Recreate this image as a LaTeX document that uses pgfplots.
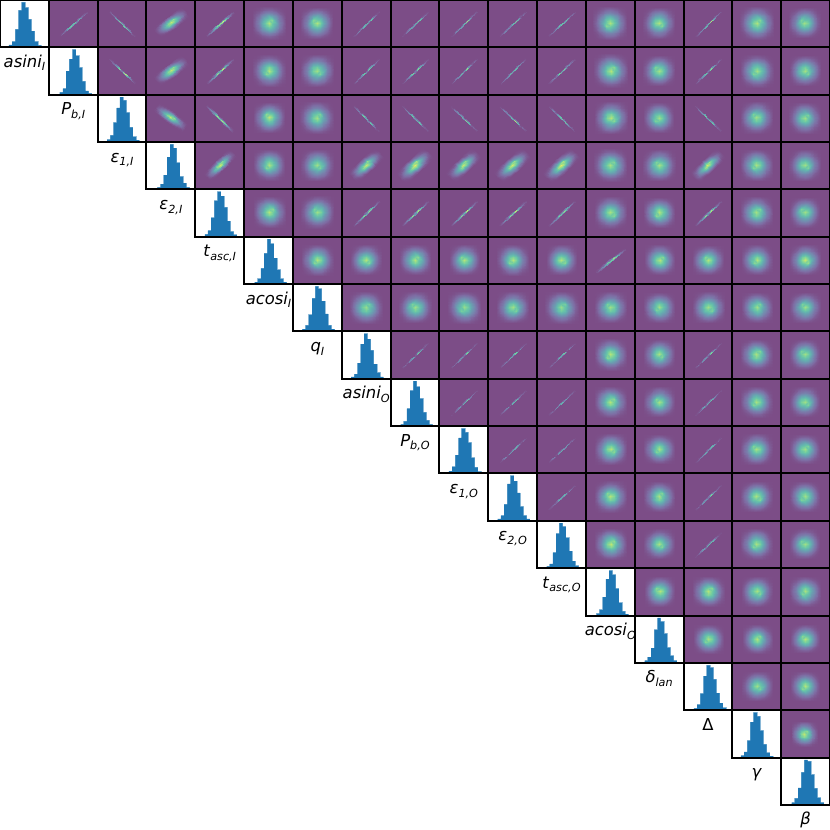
\documentclass[border=0pt]{standalone}
\usepackage{fontspec}
\setmainfont{DejaVu Sans}
\usepackage{pgfplots}
\usepackage{pgfplotstable}
\pgfplotsset{compat=1.18}

\definecolor{bgp}{RGB}{124,77,135}
\definecolor{histblue}{RGB}{31,119,180}
% viridis at alpha 0.7 on white
\pgfplotsset{colormap={vir}{rgb255(0)=(124,77,135) rgb255(0.125)=(126,108,163) rgb255(0.25)=(118,134,174)
  rgb255(0.375)=(107,156,176) rgb255(0.5)=(100,178,175) rgb255(0.625)=(105,198,166)
  rgb255(0.75)=(142,217,145) rgb255(0.875)=(198,231,110) rgb255(1)=(254,238,102)}}

% histogram heights per bin, one column per parameter
\pgfplotstableread{
bin h0 h1 h2 h3 h4 h5 h6 h7 h8 h9 h10 h11 h12 h13 h14 h15 h16
0 .05 .05 .05 .04 .05 .04 .05 .04 .04 .05 .04 .04 .04 .05 .04 .04 .05
1 .12 .13 .14 .11 .13 .11 .13 .10 .10 .14 .11 .09 .12 .12 .12 .12 .14
2 .38 .50 .41 .30 .40 .33 .35 .33 .37 .39 .35 .33 .39 .31 .35 .36 .36
3 .78 .75 .72 .68 .76 .65 .70 .73 .75 .75 .78 .73 .77 .70 .72 .75 .69
4 .95 .95 .95 .95 .95 .95 .95 .95 .95 .95 .95 .95 .95 .95 .95 .95 .95
5 .84 .82 .88 .87 .86 .85 .90 .84 .83 .87 .84 .88 .86 .87 .90 .87 .92
6 .59 .57 .62 .56 .62 .55 .64 .60 .58 .65 .59 .64 .57 .62 .65 .57 .64
7 .34 .28 .31 .27 .33 .30 .37 .31 .29 .33 .30 .36 .27 .32 .36 .28 .35
8 .12 .08 .11 .13 .11 .11 .13 .13 .12 .13 .11 .15 .09 .15 .15 .10 .15
9 .04 .03 .04 .04 .04 .04 .05 .04 .04 .04 .04 .05 .03 .05 .05 .03 .05
10 0 0 0 0 0 0 0 0 0 0 0 0 0 0 0 0 0
}\hists

% 2d histogram density on an 11x11 grid
\pgfplotstableread[row sep=\\]{
z\\
0\\0\\0\\0\\0\\0\\0\\0\\0\\0\\0\\
0\\.01\\.03\\.07\\.11\\.13\\.11\\.07\\.03\\.01\\0\\
0\\.03\\.10\\.21\\.28\\.33\\.29\\.19\\.10\\.04\\0\\
0\\.07\\.21\\.38\\.53\\.64\\.56\\.36\\.19\\.08\\0\\
0\\.12\\.28\\.56\\.82\\.94\\.80\\.52\\.30\\.11\\0\\
0\\.13\\.33\\.62\\.92\\1.10\\.86\\.63\\.32\\.14\\0\\
0\\.11\\.29\\.52\\.78\\.90\\.96\\.54\\.27\\.12\\0\\
0\\.08\\.19\\.38\\.52\\.66\\.55\\.37\\.21\\.07\\0\\
0\\.04\\.10\\.19\\.30\\.32\\.28\\.20\\.10\\.03\\0\\
0\\.01\\.03\\.07\\.12\\.13\\.12\\.07\\.04\\.01\\0\\
0\\0\\0\\0\\0\\0\\0\\0\\0\\0\\0\\
}\blob

\pgfplotstableread[row sep=\\]{
z\\
0\\0\\0\\0\\0\\0\\0\\0\\0\\0\\0\\
0\\.02\\.05\\.07\\.14\\.11\\.16\\.10\\.04\\.02\\0\\
0\\.05\\.11\\.18\\.33\\.28\\.37\\.24\\.10\\.04\\0\\
0\\.09\\.21\\.34\\.61\\.52\\.70\\.46\\.18\\.08\\0\\
0\\.12\\.30\\.48\\.88\\.75\\1.01\\.66\\.26\\.11\\0\\
0\\.14\\.34\\.55\\1.00\\.85\\1.15\\.75\\.30\\.13\\0\\
0\\.12\\.30\\.48\\.88\\.75\\1.01\\.66\\.26\\.11\\0\\
0\\.09\\.21\\.34\\.61\\.52\\.70\\.46\\.18\\.08\\0\\
0\\.05\\.11\\.18\\.33\\.28\\.37\\.24\\.10\\.04\\0\\
0\\.02\\.05\\.07\\.14\\.11\\.16\\.10\\.04\\.02\\0\\
0\\0\\0\\0\\0\\0\\0\\0\\0\\0\\0\\
}\streak

\def\pw{48.824}
\def\ph{47.35}

\pgfplotsset{cell/.style={
  scale only axis, width=\pw pt, height=\ph pt, anchor=south west,
  ticks=none, axis line style={line width=2pt, black}, axis on top}}

% density panel: table, row, col, angle, long, short, dx, dy, colour scale
\newcommand\panel[9]{%
  \pgfmathsetmacro\ca{cos(#4)}%
  \pgfmathsetmacro\sa{sin(#4)}%
  \pgfmathsetmacro\px{#3*\pw}%
  \pgfmathsetmacro\py{830-(#2+1)*\ph}%
  \begin{axis}[cell, at={(\px pt,\py pt)}, xmin=-1, xmax=1, ymin=-1, ymax=1,
      axis background/.style={fill=bgp}, colormap name=vir,
      point meta min=0, point meta max=1]
    \addplot[surf, shader=interp, mesh/cols=11, point meta={\thisrow{z}*#9}] table[
      x index=0, y index=0,
      x expr={#7+(mod(\coordindex,11)*.2-1)*#5*\ca-(floor(\coordindex/11)*.2-1)*#6*\sa},
      y expr={#8+(mod(\coordindex,11)*.2-1)*#5*\sa+(floor(\coordindex/11)*.2-1)*#6*\ca}] {#1};
  \end{axis}}
\newcommand\pB[7]{\panel{\blob}{#1}{#2}{#3}{#4*.9}{#4*.9}{#5}{#6}{#7}}
\newcommand\pE[8]{\panel{\blob}{#1}{#2}{#3}{#4*.95}{#5*.88}{#6}{#7}{#8}}
\newcommand\pL[6]{\panel{\streak}{#1}{#2}{#3}{#4*.92}{#5*.75}{0}{0}{#6}}

% diagonal panel: index, xmin, label
\newcommand\hist[3]{%
  \pgfmathsetmacro\px{#1*\pw}%
  \pgfmathsetmacro\py{830-(#1+1)*\ph}%
  \pgfmathsetmacro\xb{#2+15.2}%
  \begin{axis}[cell, at={(\px pt,\py pt)}, xmin=#2, xmax=\xb, ymin=0, ymax=1,
      xlabel={#3}, xlabel style={at={(0.5,0)}, anchor=base, yshift=-20pt, inner sep=0pt}]
    \addplot[const plot, draw=histblue!45, line width=.8pt] table[x=bin, y=h#1] {\hists};
    \addplot[ybar interval, fill=histblue, draw=none] table[x=bin, y=h#1] {\hists};
  \end{axis}}
\newcommand\lab[1]{{\fontsize{16.4}{18}\selectfont #1}}
\newcommand\sub[1]{\raisebox{-.22em}{\fontsize{11.2}{12}\selectfont\textit{#1}}}

\begin{document}
\begin{tikzpicture}[x=1pt,y=1pt]
\path[use as bounding box] (0,0) rectangle (830,830);

\hist{0}{-2.8}{\lab{\textit{asini}\sub{I}}}
\hist{1}{-3.4}{\lab{\textit{P}\sub{b,I}}}
\hist{2}{-2.95}{\lab{\textit{ε}\sub{1,I}}}
\hist{3}{-3.4}{\lab{\textit{ε}\sub{2,I}}}
\hist{4}{-2.95}{\lab{\textit{t}\sub{asc,I}}}
\hist{5}{-3.25}{\lab{\textit{acosi}\sub{I}}}
\hist{6}{-2.95}{\lab{\textit{q}\sub{I}}}
\hist{7}{-2.95}{\lab{\textit{asini}\sub{O}}}
\hist{8}{-3.1}{\lab{\textit{P}\sub{b,O}}}
\hist{9}{-2.95}{\lab{\textit{ε}\sub{1,O}}}
\hist{10}{-2.95}{\lab{\textit{ε}\sub{2,O}}}
\hist{11}{-2.95}{\lab{\textit{t}\sub{asc,O}}}
\hist{12}{-3.25}{\lab{\textit{acosi}\sub{O}}}
\hist{13}{-3.1}{\lab{\textit{δ}\sub{lan}}}
\hist{14}{-3.25}{\lab{Δ}}
\hist{15}{-2.64}{\lab{\textit{γ}}}
\hist{16}{-3.25}{\lab{\textit{β}}}

% row 0
\pL{0}{1}{42}{.85}{.045}{.8}
\pL{0}{2}{-45}{.85}{.05}{.8}
\pE{0}{3}{37}{.8}{.33}{0}{.06}{.8}
\pL{0}{4}{43}{.85}{.09}{.85}
\pB{0}{5}{0}{.78}{.02}{.03}{.75}
\pB{0}{6}{90}{.76}{-.03}{.03}{.75}
\pL{0}{7}{45}{.85}{.05}{.7}
\pL{0}{8}{44}{.85}{.05}{.7}
\pL{0}{9}{45}{.85}{.05}{.72}
\pL{0}{10}{44}{.85}{.05}{.7}
\pL{0}{11}{43}{.85}{.05}{.72}
\pB{0}{12}{180}{.8}{-.03}{.03}{.75}
\pB{0}{13}{270}{.74}{-.02}{.03}{.75}
\pL{0}{14}{46}{.85}{.05}{.75}
\pB{0}{15}{0}{.8}{0}{.03}{.75}
\pB{0}{16}{90}{.74}{-.05}{.04}{.72}
% row 1
\pL{1}{2}{-44}{.85}{.05}{.8}
\pE{1}{3}{37}{.8}{.33}{0}{.03}{.8}
\pL{1}{4}{44}{.85}{.08}{.82}
\pB{1}{5}{180}{.76}{.02}{.02}{.76}
\pB{1}{6}{270}{.78}{-.02}{.02}{.72}
\pL{1}{7}{45}{.85}{.05}{.68}
\pL{1}{8}{44}{.85}{.05}{.7}
\pL{1}{9}{45}{.85}{.05}{.68}
\pL{1}{10}{46}{.85}{.05}{.7}
\pL{1}{11}{44}{.85}{.05}{.7}
\pB{1}{12}{0}{.8}{.02}{.02}{.76}
\pB{1}{13}{90}{.74}{-.02}{.02}{.73}
\pL{1}{14}{45}{.85}{.05}{.72}
\pB{1}{15}{180}{.78}{0}{0}{.73}
\pB{1}{16}{270}{.74}{-.03}{.02}{.73}
% row 2
\pE{2}{3}{-36}{.8}{.28}{-.02}{.05}{.8}
\pL{2}{4}{-45}{.88}{.08}{.85}
\pB{2}{5}{90}{.72}{.02}{.04}{.78}
\pB{2}{6}{0}{.78}{-.03}{.03}{.72}
\pL{2}{7}{-46}{.85}{.05}{.75}
\pL{2}{8}{-45}{.85}{.05}{.72}
\pL{2}{9}{-44}{.85}{.05}{.72}
\pL{2}{10}{-44}{.85}{.05}{.75}
\pL{2}{11}{-45}{.85}{.05}{.72}
\pB{2}{12}{270}{.78}{.02}{.03}{.76}
\pB{2}{13}{180}{.72}{-.02}{.03}{.72}
\pL{2}{14}{-45}{.85}{.05}{.75}
\pB{2}{15}{90}{.76}{-.02}{.04}{.72}
\pB{2}{16}{0}{.74}{-.04}{.02}{.72}
% row 3
\pE{3}{4}{45}{.8}{.28}{0}{.04}{.82}
\pB{3}{5}{180}{.74}{.02}{.04}{.75}
\pB{3}{6}{270}{.76}{-.02}{.03}{.72}
\pE{3}{7}{43}{.82}{.36}{-.02}{.03}{.8}
\pE{3}{8}{44}{.85}{.38}{-.02}{.02}{.85}
\pE{3}{9}{44}{.82}{.36}{-.02}{.03}{.8}
\pE{3}{10}{42}{.85}{.38}{-.02}{.03}{.82}
\pE{3}{11}{43}{.85}{.38}{-.02}{.02}{.85}
\pB{3}{12}{0}{.78}{0}{.03}{.74}
\pB{3}{13}{90}{.76}{0}{.02}{.74}
\pE{3}{14}{44}{.82}{.34}{-.02}{.02}{.82}
\pB{3}{15}{180}{.76}{-.02}{.03}{.74}
\pB{3}{16}{270}{.74}{-.04}{.03}{.72}
% row 4
\pB{4}{5}{0}{.76}{.03}{.05}{.76}
\pB{4}{6}{90}{.78}{0}{.05}{.72}
\pL{4}{7}{45}{.85}{.07}{.78}
\pL{4}{8}{44}{.85}{.07}{.8}
\pL{4}{9}{44}{.85}{.07}{.78}
\pL{4}{10}{43}{.85}{.07}{.78}
\pL{4}{11}{45}{.85}{.07}{.78}
\pB{4}{12}{270}{.76}{0}{.03}{.74}
\pB{4}{13}{180}{.74}{0}{.03}{.76}
\pL{4}{14}{44}{.85}{.07}{.8}
\pB{4}{15}{0}{.76}{-.02}{.03}{.73}
\pB{4}{16}{90}{.72}{-.04}{.03}{.72}
% row 5
\pB{5}{6}{180}{.74}{0}{.02}{.76}
\pB{5}{7}{270}{.72}{-.02}{.03}{.76}
\pB{5}{8}{0}{.74}{0}{.03}{.76}
\pB{5}{9}{90}{.72}{.02}{.03}{.76}
\pB{5}{10}{180}{.74}{0}{.02}{.76}
\pB{5}{11}{270}{.72}{0}{.03}{.76}
\pL{5}{12}{40}{.88}{.09}{.78}
\pB{5}{13}{0}{.72}{.02}{.03}{.76}
\pB{5}{14}{90}{.72}{0}{.02}{.76}
\pB{5}{15}{180}{.72}{0}{.03}{.76}
\pB{5}{16}{270}{.72}{-.02}{.03}{.8}
% row 6
\pB{6}{7}{0}{.78}{-.02}{.02}{.7}
\pB{6}{8}{90}{.76}{0}{.02}{.72}
\pB{6}{9}{180}{.78}{.02}{.02}{.7}
\pB{6}{10}{270}{.76}{0}{.02}{.72}
\pB{6}{11}{0}{.78}{0}{.02}{.7}
\pB{6}{12}{90}{.76}{0}{.02}{.72}
\pB{6}{13}{180}{.74}{0}{.02}{.72}
\pB{6}{14}{270}{.76}{.02}{.02}{.72}
\pB{6}{15}{0}{.74}{0}{.02}{.72}
\pB{6}{16}{90}{.72}{-.03}{.02}{.72}
% row 7
\pL{7}{8}{45}{.85}{.04}{.62}
\pL{7}{9}{45}{.85}{.04}{.62}
\pL{7}{10}{44}{.85}{.04}{.62}
\pL{7}{11}{44}{.85}{.04}{.6}
\pB{7}{12}{180}{.76}{0}{.03}{.76}
\pB{7}{13}{270}{.72}{0}{.03}{.74}
\pL{7}{14}{45}{.85}{.045}{.64}
\pB{7}{15}{0}{.74}{-.02}{.03}{.74}
\pB{7}{16}{90}{.72}{-.04}{.03}{.72}
% row 8
\pL{8}{9}{45}{.85}{.04}{.6}
\pL{8}{10}{44}{.85}{.04}{.62}
\pL{8}{11}{44}{.85}{.04}{.6}
\pB{8}{12}{0}{.76}{0}{.03}{.76}
\pB{8}{13}{90}{.72}{0}{.03}{.74}
\pL{8}{14}{45}{.85}{.045}{.62}
\pB{8}{15}{180}{.74}{-.02}{.03}{.74}
\pB{8}{16}{270}{.72}{-.04}{.03}{.72}
% row 9
\pL{9}{10}{44}{.85}{.04}{.6}
\pL{9}{11}{44}{.85}{.04}{.6}
\pB{9}{12}{270}{.76}{.02}{.03}{.76}
\pB{9}{13}{180}{.72}{0}{.03}{.74}
\pL{9}{14}{45}{.85}{.045}{.62}
\pB{9}{15}{90}{.74}{-.02}{.03}{.74}
\pB{9}{16}{0}{.72}{-.04}{.03}{.72}
% row 10
\pL{10}{11}{43}{.85}{.04}{.58}
\pB{10}{12}{90}{.76}{0}{.03}{.76}
\pB{10}{13}{0}{.72}{0}{.03}{.74}
\pL{10}{14}{45}{.85}{.045}{.62}
\pB{10}{15}{270}{.74}{-.02}{.03}{.74}
\pB{10}{16}{180}{.72}{-.04}{.03}{.72}
% row 11
\pB{11}{12}{0}{.76}{.02}{.03}{.78}
\pB{11}{13}{270}{.72}{0}{.03}{.74}
\pL{11}{14}{44}{.85}{.045}{.62}
\pB{11}{15}{180}{.74}{-.02}{.03}{.74}
\pB{11}{16}{90}{.72}{-.04}{.03}{.72}
% row 12
\pB{12}{13}{90}{.72}{.02}{.02}{.76}
\pB{12}{14}{0}{.74}{.02}{.02}{.76}
\pB{12}{15}{270}{.72}{0}{.02}{.74}
\pB{12}{16}{180}{.72}{-.02}{.02}{.74}
% row 13
\pB{13}{14}{180}{.7}{.02}{.02}{.74}
\pB{13}{15}{0}{.7}{.02}{.02}{.76}
\pB{13}{16}{90}{.68}{-.02}{.02}{.76}
% row 14
\pB{14}{15}{270}{.72}{.02}{.02}{.72}
\pB{14}{16}{180}{.7}{-.02}{.02}{.76}
% row 15
\pB{15}{16}{0}{.62}{-.06}{0}{.78}
\end{tikzpicture}
\end{document}
